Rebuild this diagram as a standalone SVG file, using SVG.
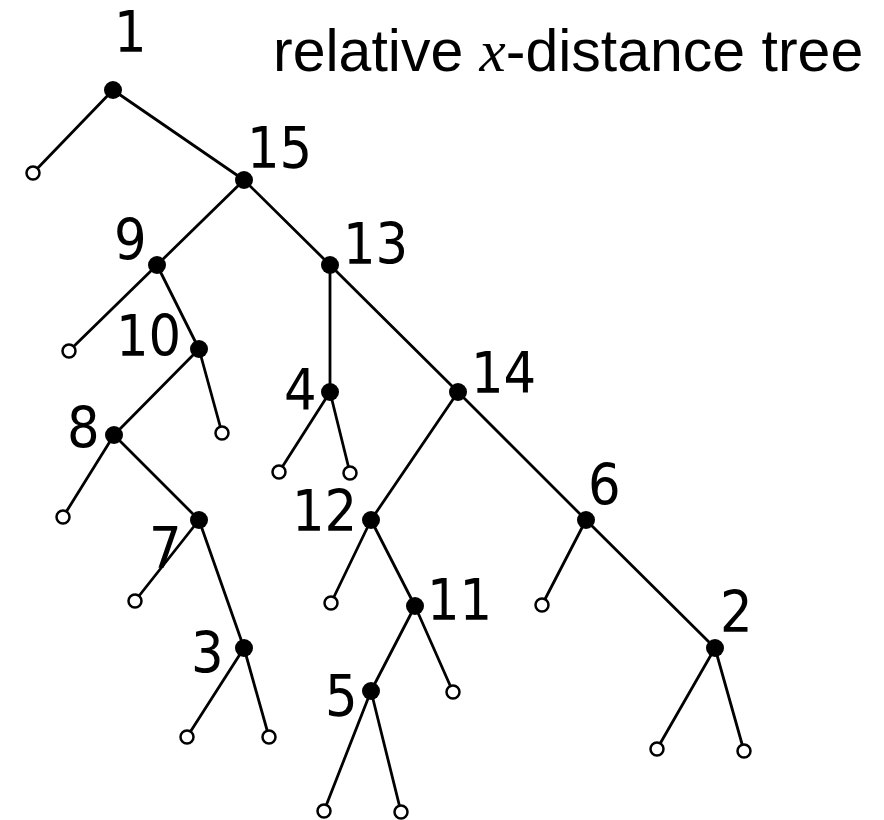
<svg xmlns="http://www.w3.org/2000/svg" width="884" height="820" viewBox="0 0 884 820">
<style>
.e{stroke:#000;stroke-width:2.8;fill:none;stroke-linecap:round}
.n{fill:#000}
.l{fill:#fff;stroke:#000;stroke-width:2.5}
.t{font-family:"DejaVu Sans Condensed","DejaVu Sans",sans-serif;font-stretch:condensed;font-size:57px;fill:#000}
.title{font-family:"Liberation Sans",Arial,sans-serif;font-size:59px;fill:#000}
.mx{font-family:"Liberation Serif",serif;font-style:italic}
</style>
<rect width="884" height="820" fill="#fff"/>
<text class="title" x="273" y="71">relative <tspan class="mx">x</tspan>-distance tree</text>
<g id="connectors">
<path class="e" d="M113 90L33 173M113 90L244 180"/>
<path class="e" d="M244 180L157 265M244 180L330 265"/>
<path class="e" d="M157 265L69 351M157 265L199 349"/>
<path class="e" d="M199 349L114 435M199 349L222 433"/>
<path class="e" d="M114 435L63 517M114 435L199 520"/>
<path class="e" d="M199 520L135 601M199 520L244 648"/>
<path class="e" d="M244 648L187 737M244 648L269 737"/>
<path class="e" d="M330 265L330 392M330 265L458 392"/>
<path class="e" d="M330 392L279 472M330 392L350 473"/>
<path class="e" d="M458 392L371 520M458 392L586 520"/>
<path class="e" d="M371 520L331 603M371 520L415 606"/>
<path class="e" d="M415 606L371 691M415 606L453 692"/>
<path class="e" d="M371 691L324 811M371 691L401 812"/>
<path class="e" d="M586 520L542 605M586 520L715 648"/>
<path class="e" d="M715 648L657 749M715 648L744 751"/>
</g>
<g id="n1"><circle class="n" cx="113" cy="90" r="9"/><text class="t" x="114" y="52">1</text></g>
<g id="n15"><circle class="n" cx="244" cy="180" r="9"/><text class="t" x="247" y="168">15</text></g>
<g id="n9"><circle class="n" cx="157" cy="265" r="9"/><text class="t" x="114" y="260">9</text></g>
<g id="n13"><circle class="n" cx="330" cy="265" r="9"/><text class="t" x="343" y="264">13</text></g>
<g id="n10"><circle class="n" cx="199" cy="349" r="9"/><text class="t" x="116" y="356">10</text></g>
<g id="n4"><circle class="n" cx="330" cy="392" r="9"/><text class="t" x="284" y="410">4</text></g>
<g id="n14"><circle class="n" cx="458" cy="392" r="9"/><text class="t" x="471" y="393">14</text></g>
<g id="n8"><circle class="n" cx="114" cy="435" r="9"/><text class="t" x="67" y="448">8</text></g>
<g id="n12"><circle class="n" cx="371" cy="520" r="9"/><text class="t" x="292" y="531">12</text></g>
<g id="n6"><circle class="n" cx="586" cy="520" r="9"/><text class="t" x="588" y="505">6</text></g>
<g id="n7"><circle class="n" cx="199" cy="520" r="9"/><text class="t" x="149" y="568">7</text></g>
<g id="n11"><circle class="n" cx="415" cy="606" r="9"/><text class="t" x="427" y="620">11</text></g>
<g id="n3"><circle class="n" cx="244" cy="648" r="9"/><text class="t" x="191" y="673">3</text></g>
<g id="n2"><circle class="n" cx="715" cy="648" r="9"/><text class="t" x="720" y="632">2</text></g>
<g id="n5"><circle class="n" cx="371" cy="691" r="9"/><text class="t" x="325" y="716">5</text></g>
<g id="leaves">
<circle class="l" cx="33" cy="173" r="6.5"/>
<circle class="l" cx="69" cy="351" r="6.5"/>
<circle class="l" cx="222" cy="433" r="6.5"/>
<circle class="l" cx="63" cy="517" r="6.5"/>
<circle class="l" cx="135" cy="601" r="6.5"/>
<circle class="l" cx="187" cy="737" r="6.5"/>
<circle class="l" cx="269" cy="737" r="6.5"/>
<circle class="l" cx="279" cy="472" r="6.5"/>
<circle class="l" cx="350" cy="473" r="6.5"/>
<circle class="l" cx="331" cy="603" r="6.5"/>
<circle class="l" cx="453" cy="692" r="6.5"/>
<circle class="l" cx="324" cy="811" r="6.5"/>
<circle class="l" cx="401" cy="812" r="6.5"/>
<circle class="l" cx="542" cy="605" r="6.5"/>
<circle class="l" cx="657" cy="749" r="6.5"/>
<circle class="l" cx="744" cy="751" r="6.5"/>
</g>
</svg>
